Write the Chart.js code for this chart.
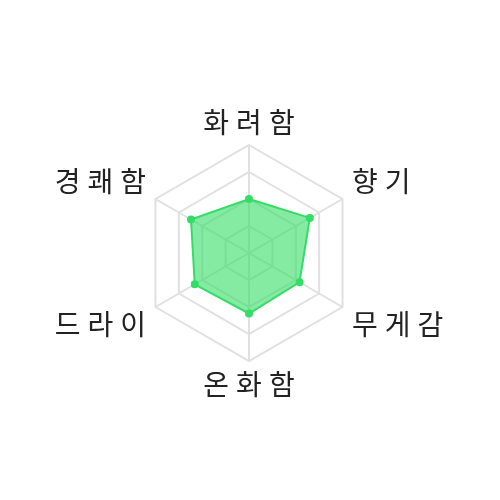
<!DOCTYPE html>
<html>
<head>
<meta charset="utf-8">
<script src="https://cdn.jsdelivr.net/npm/chart.js@4/dist/chart.umd.min.js"></script>
<style>
  html, body { margin: 0; padding: 0; background: #ffffff; }
  #wrap { width: 500px; height: 500px; }
</style>
</head>
<body>
<div id="wrap"><canvas id="c" width="500" height="500"></canvas></div>
<script>
const categories = ['화려함', '향기', '무게감', '온화함', '드라이', '경쾌함'];
const scores = [50, 65, 54, 56, 58, 62];
const scaleMax = 100;
const scaleStep = 25;

const LABEL_FONT = '28px "Noto Sans CJK KR", sans-serif';
const LABEL_SPACING = 7;
const LABEL_GAP = 11;
const LABEL_SHIFT = 12;

// Draws the axis labels at the radial scale's own point positions
const labelPlugin = {
  id: 'spacedPointLabels',
  afterDraw(chart) {
    const scale = chart.scales.r;
    const ctx = chart.ctx;
    ctx.save();
    ctx.font = LABEL_FONT;
    ctx.letterSpacing = LABEL_SPACING + 'px';
    ctx.fillStyle = '#222222';
    ctx.textBaseline = 'middle';
    ctx.textAlign = 'left';
    const labels = chart.data.labels;
    for (let i = 0; i < labels.length; i++) {
      const p = scale.getPointPosition(i, scale.drawingArea + LABEL_GAP);
      const cos = Math.cos(p.angle), sin = Math.sin(p.angle);
      const inkW = ctx.measureText(labels[i]).width - LABEL_SPACING;
      let x;
      if (cos > 0.1) x = p.x;
      else if (cos < -0.1) x = p.x - inkW;
      else x = p.x - inkW / 2;
      const y = p.y + (sin > 0.1 ? LABEL_SHIFT : sin < -0.1 ? -LABEL_SHIFT : 0);
      ctx.fillText(labels[i], x, y);
    }
    ctx.restore();
  }
};

new Chart(document.getElementById('c'), {
  type: 'radar',
  data: {
    labels: categories,
    datasets: [{
      data: scores,
      backgroundColor: 'rgba(51,221,102,0.6)',
      borderColor: '#33dd66',
      borderWidth: 2,
      pointBackgroundColor: '#33dd66',
      pointBorderColor: '#33dd66',
      pointRadius: 3,
      fill: true
    }]
  },
  options: {
    responsive: false,
    animation: false,
    devicePixelRatio: 1,
    layout: { padding: { top: 145, bottom: 139, left: 141, right: 143 } },
    plugins: { legend: { display: false }, tooltip: { enabled: false } },
    scales: {
      r: {
        min: 0,
        max: scaleMax,
        ticks: { display: false, stepSize: scaleStep },
        grid: { color: '#e0e0e0', lineWidth: 2 },
        angleLines: { color: '#e0e0e0', lineWidth: 2 },
        pointLabels: { display: false }
      }
    }
  },
  plugins: [labelPlugin]
});
</script>
</body>
</html>
